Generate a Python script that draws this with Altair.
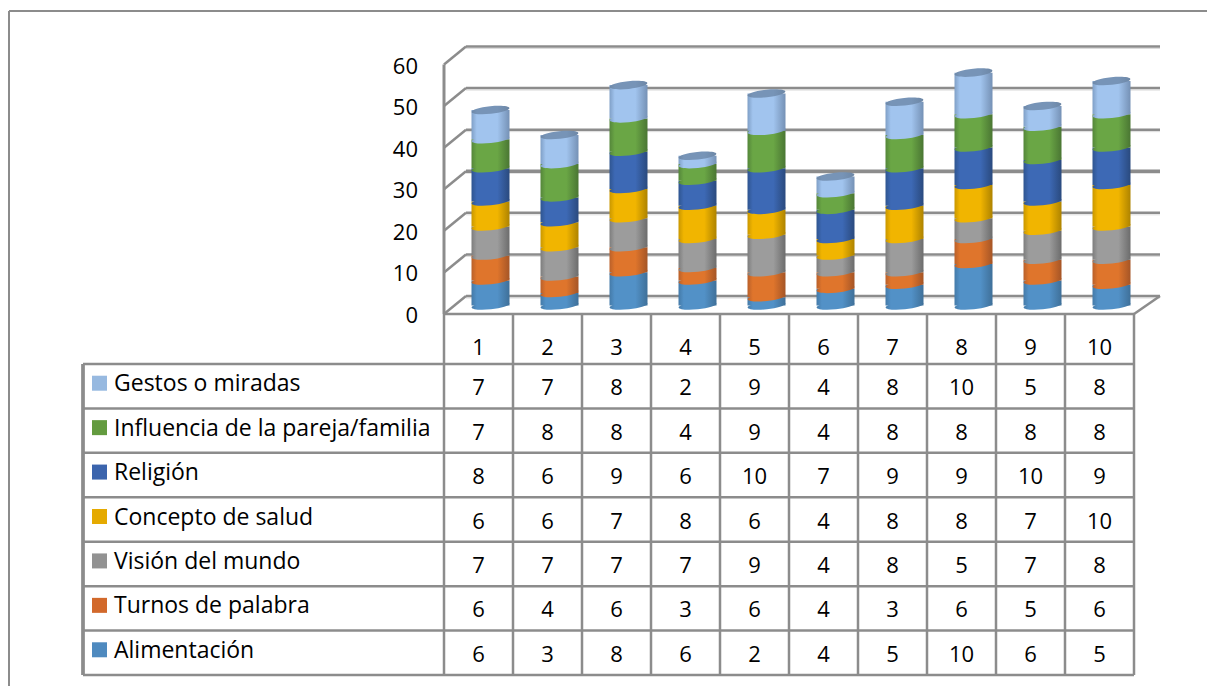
import math
import altair as alt
import pandas as pd

categories = ["1", "2", "3", "4", "5", "6", "7", "8", "9", "10"]

# Stacking order, bottom of the cylinder first.
series = ["Alimentación", "Turnos de palabra", "Visión del mundo", "Concepto de salud",
          "Religión", "Influencia de la pareja/familia", "Gestos o miradas"]
alimentacion = [6, 3, 8, 6, 2, 4, 5, 10, 6, 5]
turnos = [6, 4, 6, 3, 6, 4, 3, 6, 5, 6]
vision = [7, 7, 7, 7, 9, 4, 8, 5, 7, 8]
salud = [6, 6, 7, 8, 6, 4, 8, 8, 7, 10]
religion = [8, 6, 9, 6, 10, 7, 9, 9, 10, 9]
influencia = [7, 8, 8, 4, 9, 4, 8, 8, 8, 8]
gestos = [7, 7, 8, 2, 9, 4, 8, 10, 5, 8]
values = [alimentacion, turnos, vision, salud, religion, influencia, gestos]

key_colors = ["#4f8abf", "#d2692b", "#929292", "#e5aa00", "#3b64ad", "#639b3f", "#97b9e0"]
# (edge, body, far edge) shades of each cylinder band
band_shades = [
    ("#447aa8", "#5291c7", "#3f7099"),
    ("#b9602a", "#df752c", "#a55526"),
    ("#7d7d7d", "#9c9c9c", "#6c6c6c"),
    ("#c99700", "#f1b500", "#ae8300"),
    ("#2f5590", "#3d69b5", "#2a4a7e"),
    ("#54863a", "#6aa645", "#4a7633"),
    ("#7f9fc6", "#a1c4ee", "#7591b5"),
]
GRID = "#8c8c8c"
LINE = 2.5
TICKS = [0, 10, 20, 30, 40, 50, 60]
FONT = "Open Sans"
FS = 22
FS_ROW = 23

rows_top_down = series[::-1]

x_scale = alt.Scale(domain=categories, range=[444, 1134], paddingInner=0, paddingOuter=0)
y_scale = alt.Scale(domain=[0, 60], range=[314, 64.5], nice=False)
row_scale = alt.Scale(domain=rows_top_down, range=[364, 675], paddingInner=0, paddingOuter=0)

X = alt.X("cat:N", scale=x_scale, axis=None)
Y = alt.Y("v:Q", scale=y_scale, axis=None)
ROW = alt.Y("name:N", scale=row_scale, axis=None)

# Tilted ellipse drawn as four cubic curves, used for the cylinder rims.
def ellipse_path(ry=0.2, tilt=-6.0):
    k, t = 0.5523, math.radians(tilt)
    def p(x, y):
        return f"{x*math.cos(t)-y*math.sin(t):.4f},{x*math.sin(t)+y*math.cos(t):.4f}"
    return (f"M{p(-1,0)}C{p(-1,-k*ry)} {p(-k,-ry)} {p(0,-ry)}"
            f"C{p(k,-ry)} {p(1,-k*ry)} {p(1,0)}"
            f"C{p(1,k*ry)} {p(k,ry)} {p(0,ry)}"
            f"C{p(-k,ry)} {p(-1,k*ry)} {p(-1,0)}Z")

RIM = ellipse_path()
BAR_W = 38
BAR_DX = 12
BAR_DY = -8.5
DEPTH = -18

def shade(edge, body, far):
    return alt.Gradient(
        gradient="linear", x1=0, x2=1, y1=0, y2=0,
        stops=[alt.GradientStop(color=edge, offset=0),
               alt.GradientStop(color=body, offset=0.14),
               alt.GradientStop(color=body, offset=0.68),
               alt.GradientStop(color=far, offset=1)])

ticks_df = pd.DataFrame({"v": TICKS})
ends_df = pd.DataFrame({"v": [0, 60]})

# Frame around the whole figure
frame = alt.layer(
    alt.Chart(pd.DataFrame({"a": [0]})).mark_rule(color=GRID, strokeWidth=2).encode(
        x=alt.value(9), x2=alt.value(1207), y=alt.value(11)),
    alt.Chart(pd.DataFrame({"a": [0]})).mark_rule(color=GRID, strokeWidth=2).encode(
        x=alt.value(9), y=alt.value(11), y2=alt.value(686)),
)

# Back wall, side wall and floor of the 3-D box, with the value labels beside it
tick_labels = alt.Chart(ticks_df).mark_text(font=FONT, fontSize=FS, color="black", align="right", dy=2).encode(
    x=alt.value(418), y=Y, text="v:Q")
back_shadow = alt.Chart(ticks_df).mark_rule(color="#dcdcdc", strokeWidth=1, yOffset=DEPTH + 2).encode(
    x=alt.value(466), x2=alt.value(1160), y=Y)
back = alt.Chart(ticks_df).mark_rule(color=GRID, yOffset=DEPTH).encode(
    x=alt.value(466), x2=alt.value(1160), y=Y,
    strokeWidth=alt.condition(alt.datum.v == 30, alt.value(3.5), alt.value(LINE)))
side = alt.Chart(ticks_df).mark_rule(color=GRID, strokeWidth=LINE, y2Offset=DEPTH).encode(
    x=alt.value(444), x2=alt.value(466), y=Y, y2=alt.Y2("v:Q"))
wall_edge = alt.Chart(ends_df).transform_aggregate(lo="min(v)", hi="max(v)").mark_rule(
    color=GRID, strokeWidth=3).encode(
    x=alt.value(444), y=alt.Y("lo:Q", scale=y_scale, axis=None), y2=alt.Y2("hi:Q"))
floor_front = alt.Chart(pd.DataFrame({"v": [0]})).mark_rule(color=GRID, strokeWidth=LINE).encode(
    x=alt.value(444), x2=alt.value(1134), y=Y)
floor_right = alt.Chart(pd.DataFrame({"v": [0]})).mark_rule(color=GRID, strokeWidth=LINE, y2Offset=DEPTH).encode(
    x=alt.value(1134), x2=alt.value(1160), y=Y, y2=alt.Y2("v:Q"))

# Stacked cylinders: lower bands first so that each rim overlaps the band beneath it
cylinders = []
running = [0] * len(categories)
for vals, (edge, body, far) in zip(values, band_shades):
    df = pd.DataFrame({"cat": categories, "base": running,
                       "top": [r + v for r, v in zip(running, vals)]})
    running = list(df["top"])
    grad = shade(edge, body, far)
    cylinders.append(
        alt.Chart(df).mark_bar(color=grad, width=BAR_W, xOffset=BAR_DX, yOffset=BAR_DY,
                               y2Offset=BAR_DY, cornerRadius=0).encode(
            x=X, y=alt.Y("base:Q", scale=y_scale, axis=None), y2=alt.Y2("top:Q")))
    cylinders.append(
        alt.Chart(df).mark_point(shape=RIM, size=BAR_W ** 2, filled=True, color=grad, opacity=1,
                                 strokeWidth=0, xOffset=BAR_DX, yOffset=BAR_DY).encode(
            x=X, y=alt.Y("base:Q", scale=y_scale, axis=None)))

caps_df = pd.DataFrame({"cat": categories, "top": running})
caps = alt.Chart(caps_df).mark_point(
    shape=RIM, size=BAR_W ** 2, filled=True, opacity=1, strokeWidth=0,
    color=shade("#6d87a6", "#7794b7", "#6d87a6"), xOffset=BAR_DX, yOffset=BAR_DY).encode(
    x=X, y=alt.Y("top:Q", scale=y_scale, axis=None))

plot = alt.layer(tick_labels, back_shadow, back, side, wall_edge, floor_front, floor_right, *cylinders, caps)

# Data table underneath the plot
cells = pd.DataFrame(
    [{"cat": c, "name": s, "val": vals[i]} for s, vals in zip(series, values) for i, c in enumerate(categories)])
cols_df = pd.DataFrame({"cat": categories})
rows_df = pd.DataFrame({"name": rows_top_down})

col_lines = alt.Chart(cols_df).mark_rule(color=GRID, strokeWidth=LINE).encode(
    x=alt.X("cat:N", scale=x_scale, axis=None, bandPosition=0), y=alt.value(314), y2=alt.value(675))
col_last = alt.Chart(cols_df.tail(1)).mark_rule(color=GRID, strokeWidth=LINE).encode(
    x=alt.X("cat:N", scale=x_scale, axis=None, bandPosition=1), y=alt.value(314), y2=alt.value(675))
row_lines = alt.Chart(rows_df).mark_rule(color=GRID, strokeWidth=LINE).encode(
    x=alt.value(83), x2=alt.value(1134), y=alt.Y("name:N", scale=row_scale, axis=None, bandPosition=0))
row_last = alt.Chart(rows_df.tail(1)).mark_rule(color=GRID, strokeWidth=LINE).encode(
    x=alt.value(83), x2=alt.value(1134), y=alt.Y("name:N", scale=row_scale, axis=None, bandPosition=1))
label_edge = alt.Chart(rows_df).mark_rule(color=GRID, strokeWidth=LINE).encode(
    x=alt.value(83), y=alt.value(364), y2=alt.value(675))

cat_labels = alt.Chart(cols_df).mark_text(font=FONT, fontSize=FS, color="black").encode(
    x=X, y=alt.value(348), text="cat:N")
cell_text = alt.Chart(cells).mark_text(font=FONT, fontSize=FS, color="black", dy=2).encode(
    x=X, y=ROW, text="val:Q")
row_text = alt.Chart(rows_df).mark_text(font=FONT, fontSize=FS_ROW, color="black", align="left", dy=-2).encode(
    x=alt.value(114), y=ROW, text="name:N")
swatches = alt.Chart(rows_df).mark_square(size=225, opacity=1, filled=True, yOffset=-3).encode(
    x=alt.value(99.5), y=ROW,
    color=alt.Color("name:N", scale=alt.Scale(domain=series, range=key_colors), legend=None))

table = alt.layer(col_lines, col_last, row_lines, row_last, label_edge,
                  cat_labels, cell_text, row_text, swatches)

chart = (
    alt.layer(frame, plot, table)
    .resolve_scale(y="independent")
    .properties(width=1207, height=686, padding=0, background="white",
                autosize=alt.AutoSizeParams(type="none"))
    .configure_view(stroke=None)
)

chart.save("out.html", embed_options={"renderer": "svg", "actions": False})
